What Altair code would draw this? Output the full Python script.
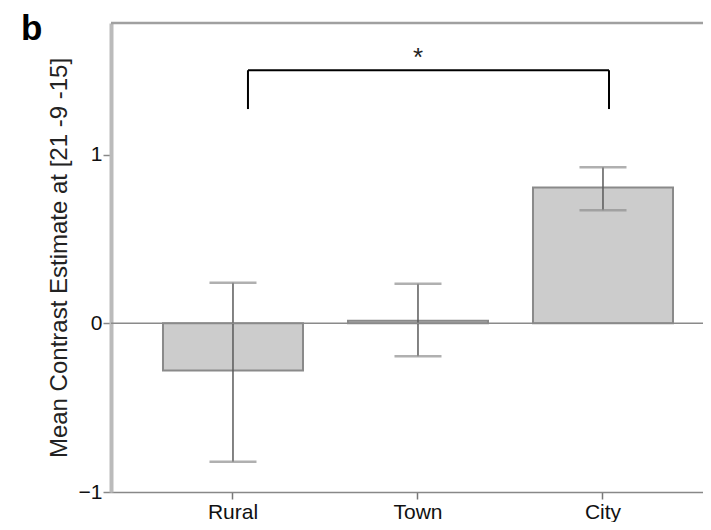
import altair as alt
import pandas as pd

categories = ["Rural", "Town", "City"]
means = [-0.28, 0.015, 0.805]
ci_low = [-0.82, -0.195, 0.67]
ci_high = [0.24, 0.235, 0.925]

y_min, y_max = -1.0, 1.78
y_ticks = [-1, 0, 1]
bracket_from, bracket_to = "Rural", "City"
bracket_top = 1.50
bracket_leg = 1.27
star_cat = "Town"
star_y = 1.57

FONT = "Liberation Sans"

df = pd.DataFrame({"cat": categories, "mean": means, "lo": ci_low, "hi": ci_high})
br = pd.DataFrame({"a": [bracket_from], "b": [bracket_to], "top": [bracket_top], "leg": [bracket_leg]})
star = pd.DataFrame({"cat": [star_cat], "y": [star_y], "t": ["*"]})
frame = pd.DataFrame({"top": [y_max], "zero": [0.0]})

xscale = alt.Scale(domain=categories, paddingInner=0.2432, paddingOuter=0.2216, align=0.634)
yscale = alt.Scale(domain=[y_min, y_max], nice=False, zero=False)

xaxis = alt.Axis(title=None, labelAngle=0, labelFont=FONT, labelFontSize=21, labelColor="#111",
                 tickColor="#777", tickSize=7, tickWidth=1.5, domainColor="#888", domainWidth=1.5,
                 labelPadding=2, grid=False)
yaxis = alt.Axis(values=y_ticks, title="Mean Contrast Estimate at [21 -9 -15]", titleFont=FONT,
                 titleFontSize=24, titleFontWeight="normal", titleColor="#222", titlePadding=7,
                 labelFont=FONT, labelFontSize=21, labelColor="#111", labelPadding=1,
                 tickColor="#888", tickSize=8, tickWidth=1.5, domainColor="#bbbbbb", domainWidth=4,
                 grid=False)

X = alt.X("cat:N", scale=xscale, axis=xaxis, sort=categories)

bars = alt.Chart(df).mark_bar(fill="#cccccc", stroke="#8a8a8a", strokeWidth=2).encode(
    x=X,
    y=alt.Y("mean:Q", scale=yscale, axis=yaxis),
    y2=alt.datum(0),
)

zero_line = alt.Chart(frame).mark_rule(color="#8a8a8a", strokeWidth=1.5).encode(
    y=alt.Y("zero:Q", scale=yscale, axis=yaxis)
)

top_line = alt.Chart(frame).mark_rule(color="#a0a0a0", strokeWidth=2.5).encode(
    y=alt.Y("top:Q", scale=yscale, axis=yaxis)
)

err = alt.Chart(df).mark_rule(color="#5a5a5a", strokeWidth=1.5).encode(
    x=X, y=alt.Y("lo:Q", scale=yscale, axis=yaxis), y2="hi:Q"
)
cap_lo = alt.Chart(df).mark_tick(color="#8f8f8f", size=47, thickness=2.5).encode(
    x=X, y=alt.Y("lo:Q", scale=yscale, axis=yaxis)
)
cap_hi = alt.Chart(df).mark_tick(color="#8f8f8f", size=47, thickness=2.5).encode(
    x=X, y=alt.Y("hi:Q", scale=yscale, axis=yaxis)
)

br_h = alt.Chart(br).mark_rule(color="black", strokeWidth=2).encode(
    x=alt.X("a:N", scale=xscale, axis=xaxis, bandPosition=0.607),
    x2=alt.X2("b:N", bandPosition=0.543),
    y=alt.Y("top:Q", scale=yscale, axis=yaxis),
)
br_l = alt.Chart(br).mark_rule(color="black", strokeWidth=2).encode(
    x=alt.X("a:N", scale=xscale, axis=xaxis, bandPosition=0.607),
    y=alt.Y("leg:Q", scale=yscale, axis=yaxis), y2="top:Q",
)
br_r = alt.Chart(br).mark_rule(color="black", strokeWidth=2).encode(
    x=alt.X("b:N", scale=xscale, axis=xaxis, bandPosition=0.543),
    y=alt.Y("leg:Q", scale=yscale, axis=yaxis), y2="top:Q",
)
star_t = alt.Chart(star).mark_text(font=FONT, fontSize=26, baseline="middle", color="#222").encode(
    x=alt.X("cat:N", scale=xscale, axis=xaxis),
    y=alt.Y("y:Q", scale=yscale, axis=yaxis),
    text="t:N",
)

chart = alt.layer(top_line, bars, err, cap_lo, cap_hi, zero_line, br_h, br_l, br_r, star_t).properties(
    width=592, height=469,
    autosize=alt.AutoSizeParams(type="none"),
    padding={"left": 103, "top": 15, "right": 0, "bottom": 30},
    title=alt.TitleParams("b", anchor="start", frame="group", font=FONT, fontSize=35,
                          fontWeight="bold", color="black", dx=-90, dy=25, offset=0),
).configure_view(stroke=None).configure(background="white")

chart.save("out.html", embed_options={"renderer": "svg", "actions": False})
